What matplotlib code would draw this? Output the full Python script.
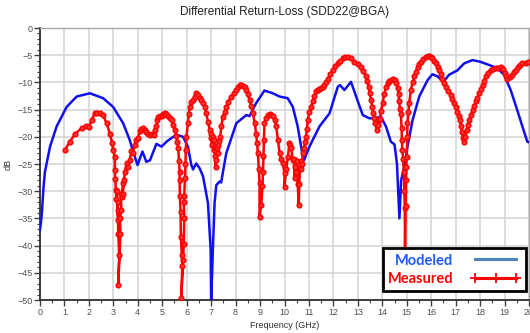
import numpy as np
import matplotlib
matplotlib.use('Agg')
import matplotlib.pyplot as plt
from matplotlib.lines import Line2D
from matplotlib.ticker import MultipleLocator

plt.rcParams['font.family'] = ['Liberation Sans', 'DejaVu Sans']

# Modeled (blue) curve
mod_f = [0, 0.07, 0.14, 0.2, 0.41, 0.68, 1.09, 1.5, 2.04, 2.58, 2.99, 3.4, 3.67, 3.88, 3.99,
         4.19, 4.35, 4.5, 4.76, 4.97, 5.2, 5.58, 5.85, 6.05, 6.19, 6.26, 6.39, 6.53, 6.67,
         6.87, 6.98, 7.0, 7.07, 7.14, 7.21, 7.35, 7.41, 7.5, 7.62, 8.03, 8.44, 8.57, 8.84,
         9.18, 9.52, 9.8, 10.13, 10.34, 10.54, 10.75, 10.8, 11.02, 11.43, 11.84, 12.18,
         12.27, 12.45, 12.72, 12.93, 13.2, 13.47, 13.7, 13.94, 14.15, 14.35, 14.5, 14.6,
         14.7, 14.77, 14.85, 14.9, 15.03, 15.24, 15.51, 15.85, 16.05, 16.26, 16.5, 16.73,
         17.07, 17.35, 17.69, 18.0, 18.37, 18.71, 18.98, 19.25, 19.52, 19.73, 19.93, 20.0]
mod_db = [-37.1, -34.5, -29.5, -26.5, -21.8, -18.1, -14.5, -12.6, -12.0, -12.9, -14.5, -17.5,
          -20.6, -23.7, -25.2, -22.7, -24.6, -24.3, -21.3, -21.8, -20.8, -19.6, -20.0, -21.8,
          -25.2, -26.0, -24.9, -25.8, -27.3, -32.2, -40.8, -50.5, -40.8, -32.2, -28.9, -28.2,
          -28.4, -26.0, -23.0, -17.5, -16.0, -16.2, -13.8, -11.5, -12.0, -12.6, -12.9, -14.5,
          -18.1, -23.7, -24.3, -21.8, -18.1, -15.7, -10.8, -10.5, -11.4, -9.9, -12.6, -16.0,
          -16.6, -16.6, -16.3, -18.1, -20.9, -21.4, -25.0, -35.0, -28.0, -26.5, -25.5, -21.8,
          -16.9, -12.6, -9.6, -8.5, -8.9, -9.9, -8.6, -7.8, -6.5, -5.9, -6.2, -6.8, -7.4,
          -8.6, -11.4, -15.1, -18.1, -20.9, -21.0]

# Measured (red) curve
meas_f = [1.02, 1.22, 1.43, 1.7, 1.9, 2.0, 2.11, 2.24, 2.35, 2.45, 2.58, 2.72, 2.86, 2.95,
          3.0, 3.06, 3.06, 3.08, 3.1, 3.12, 3.15, 3.17, 3.2, 3.18, 3.2, 3.24, 3.2, 3.29,
          3.27, 3.33, 3.3, 3.37, 3.4, 3.38, 3.43, 3.47, 3.54, 3.6, 3.67, 3.74, 3.8, 3.88,
          3.94, 4.0, 4.08, 4.15, 4.22, 4.3, 4.35, 4.42, 4.49, 4.57, 4.65, 4.72, 4.76, 4.8,
          4.83, 4.9, 4.97, 5.03, 5.1, 5.17, 5.24, 5.31, 5.38, 5.44, 5.51, 5.58, 5.62, 5.65,
          5.69, 5.71, 5.71, 5.72, 5.75, 5.76, 5.8, 5.82, 5.78, 5.85, 5.88, 5.9, 5.88, 5.9,
          5.93, 5.95, 5.96, 5.99, 6.05, 6.08, 6.12, 6.18, 6.26, 6.32, 6.39, 6.45, 6.53, 6.6,
          6.67, 6.73, 6.8, 6.87, 6.94, 6.98, 7.0, 7.03, 7.07, 7.1, 7.12, 7.14, 7.16, 7.18,
          7.21, 7.23, 7.26, 7.3, 7.33, 7.37, 7.42, 7.48, 7.55, 7.62, 7.7, 7.82, 7.92, 8.03,
          8.1, 8.16, 8.23, 8.3, 8.37, 8.44, 8.5, 8.57, 8.64, 8.71, 8.78, 8.84, 8.88, 8.91,
          8.95, 8.98, 8.98, 9.05, 9.1, 9.12, 9.14, 9.16, 9.18, 9.25, 9.32, 9.4, 9.46, 9.52,
          9.6, 9.66, 9.73, 9.8, 9.86, 9.93, 10.0, 10.0, 10.07, 10.14, 10.2, 10.24, 10.27,
          10.34, 10.38, 10.41, 10.44, 10.48, 10.51, 10.54, 10.58, 10.61, 10.63, 10.68, 10.68,
          10.72, 10.75, 10.8, 10.85, 10.88, 10.92, 10.95, 11.02, 11.09, 11.15, 11.22, 11.29,
          11.36, 11.43, 11.5, 11.57, 11.63, 11.7, 11.77, 11.87, 11.97, 12.08, 12.18, 12.28,
          12.38, 12.49, 12.59, 12.72, 12.86, 13.0, 13.13, 13.23, 13.33, 13.39, 13.44, 13.49,
          13.54, 13.59, 13.63, 13.67, 13.71, 13.77, 13.82, 13.85, 13.9, 13.95, 14.01, 14.08,
          14.15, 14.22, 14.29, 14.37, 14.45, 14.52, 14.58, 14.63, 14.67, 14.69, 14.72, 14.76,
          14.79, 14.8, 14.82, 14.85, 14.88, 14.9, 14.92, 14.93, 14.95, 14.97, 14.98, 15.0,
          15.02, 15.03, 15.07, 15.1, 15.17, 15.24, 15.31, 15.37, 15.44, 15.51, 15.58, 15.68,
          15.78, 15.85, 15.92, 15.99, 16.05, 16.12, 16.19, 16.26, 16.33, 16.4, 16.46, 16.53,
          16.6, 16.7, 16.8, 16.87, 16.94, 17.0, 17.07, 17.13, 17.18, 17.22, 17.25, 17.3,
          17.35, 17.4, 17.46, 17.5, 17.55, 17.62, 17.69, 17.76, 17.82, 17.89, 17.96, 18.03,
          18.1, 18.16, 18.23, 18.33, 18.44, 18.54, 18.64, 18.74, 18.84, 18.92, 19.0, 19.06,
          19.12, 19.22, 19.32, 19.39, 19.46, 19.55, 19.63, 19.73, 19.86, 19.95]
meas_db = [-22.4, -20.9, -19.5, -18.4, -18.0, -18.2, -16.9, -15.7, -15.6, -15.7, -16.0, -17.5,
           -19.4, -21.2, -22.5, -23.7, -26.1, -27.8, -29.8, -31.5, -30.0, -33.5, -35.3, -32.0,
           -37.8, -41.7, -47.2, -37.8, -35.0, -33.5, -30.5, -31.0, -28.5, -30.6, -28.0, -26.4,
           -24.9, -25.5, -24.3, -22.7, -23.0, -21.5, -20.6, -20.2, -19.0, -18.6, -18.4, -18.7,
           -19.1, -19.4, -19.7, -19.4, -19.6, -18.8, -18.1, -17.0, -16.3, -16.1, -16.2, -15.9,
           -15.7, -15.8, -16.2, -16.5, -17.0, -17.8, -18.8, -19.8, -21.0, -22.0, -24.5, -26.5,
           -28.0, -30.8, -33.9, -38.4, -41.7, -43.8, -49.7, -42.6, -39.7, -34.9, -32.0, -30.8,
           -27.5, -25.0, -22.5, -20.0, -17.5, -15.8, -14.5, -13.6, -13.2, -12.6, -12.0, -12.4,
           -12.9, -13.3, -13.8, -14.6, -15.7, -17.2, -18.8, -20.2, -19.5, -21.5, -20.0, -22.5,
           -20.5, -21.8, -23.5, -25.5, -24.3, -22.0, -21.5, -23.0, -20.8, -20.0, -18.0, -16.3,
           -15.5, -14.5, -13.6, -12.6, -12.0, -11.4, -10.9, -10.5, -10.4, -10.6, -10.9, -11.4,
           -12.2, -13.2, -14.3, -15.7, -17.5, -19.4, -21.2, -23.0, -26.0, -28.5, -34.7, -32.5,
           -29.0, -26.5, -23.5, -20.5, -17.5, -16.6, -16.0, -15.8, -16.0, -16.2, -17.0, -18.1,
           -20.6, -23.0, -24.0, -24.9, -26.7, -29.2, -26.0, -23.7, -21.2, -21.5, -22.0, -24.3,
           -24.0, -27.6, -25.5, -26.5, -24.5, -28.6, -32.5, -28.6, -25.5, -26.0, -24.5, -25.0,
           -23.0, -22.0, -21.0, -20.0, -18.5, -16.9, -15.5, -14.5, -13.5, -12.5, -11.6, -11.4,
           -11.2, -11.0, -10.8, -10.5, -9.9, -9.3, -8.5, -7.7, -7.0, -6.5, -6.0, -5.6, -5.4,
           -5.3, -5.6, -6.2, -6.6, -7.1, -7.9, -8.9, -9.8, -10.8, -12.0, -13.2, -14.5, -15.7,
           -16.6, -17.5, -18.8, -17.8, -17.0, -16.7, -15.2, -13.8, -12.2, -10.8, -10.2, -9.8,
           -9.5, -9.3, -9.6, -10.2, -11.1, -12.2, -13.5, -14.8, -15.9, -18.4, -20.5, -22.5,
           -24.0, -26.5, -30.0, -33.0, -40.8, -32.7, -28.0, -25.5, -23.7, -20.0, -17.5, -15.5,
           -13.8, -11.4, -10.0, -8.9, -8.0, -7.1, -6.6, -6.2, -5.7, -5.3, -5.2, -5.2, -5.4,
           -5.6, -6.0, -6.5, -7.1, -7.7, -8.5, -9.3, -10.1, -10.8, -11.5, -12.3, -13.0, -13.8,
           -14.6, -15.4, -16.2, -16.9, -18.0, -19.1, -20.2, -20.9, -20.0, -18.8, -17.8, -16.9,
           -16.0, -15.1, -14.3, -13.5, -12.8, -12.0, -11.2, -10.5, -9.7, -8.9, -8.2, -7.7,
           -7.5, -7.4, -7.3, -7.1, -7.6, -8.3, -8.8, -9.3, -9.0, -8.6, -8.1, -7.7, -7.2, -6.8,
           -6.4, -6.5, -6.3]

fig = plt.figure(figsize=(5.3, 3.33), dpi=100)
ax = fig.add_axes([40 / 530, 1 - 300 / 333, 489 / 530, 272 / 333])

ax.plot(mod_f, mod_db, color='#1010ee', lw=1.8, zorder=3)
ax.plot(meas_f, meas_db, color='red', lw=1.8, marker='o', ms=3.4,
        mfc='#ff3030', mec='red', mew=1.0, zorder=4)

ax.set_xlim(0, 20)
ax.set_ylim(-50, 0)
ax.xaxis.set_major_locator(MultipleLocator(1))
ax.xaxis.set_minor_locator(MultipleLocator(0.5))
ax.yaxis.set_major_locator(MultipleLocator(5))
ax.yaxis.set_minor_locator(MultipleLocator(1))
ax.grid(True, which='major', color='#d2d2d2', lw=1.1, zorder=0)
ax.set_axisbelow(True)

ax.tick_params(which='major', direction='out', length=4, width=1, color='#404040',
               labelsize=6.5, labelcolor='#505050', pad=1.5)
ax.tick_params(which='minor', direction='out', length=2.5, width=0.8, color='#404040')

for s in ['left', 'bottom']:
    ax.spines[s].set_color('#303030')
    ax.spines[s].set_linewidth(1.3)
for s in ['top', 'right']:
    ax.spines[s].set_color('#a8a8a8')
    ax.spines[s].set_linewidth(1.0)

ax.set_title('Differential Return-Loss (SDD22@BGA)', fontsize=8.5, color='#202020', pad=9)
ax.set_xlabel('Frequency (GHz)', fontsize=6.5, color='#303030', labelpad=3)
ax.set_ylabel('dB', fontsize=6.5, color='#303030', labelpad=3)

handles = [Line2D([], [], color='#4f81bd', lw=2.2),
           Line2D([], [], color='red', lw=2.2, marker='+', ms=7, mew=1.3)]
leg = ax.legend(handles, ['Modeled', 'Measured'], loc='lower right',
                bbox_to_anchor=(0.993, 0.033), markerfirst=False, numpoints=3,
                frameon=True, fancybox=False, framealpha=1, edgecolor='black',
                prop={'family': 'Lato', 'weight': 'bold', 'size': 10.5},
                handlelength=3.4, handletextpad=1.2, borderpad=0.35,
                labelspacing=0.3, borderaxespad=0)
leg.get_frame().set_linewidth(2)
leg.get_texts()[0].set_color('#1e5cff')
leg.get_texts()[1].set_color('red')
leg.set_zorder(10)

fig.savefig('out.png', dpi=100)
